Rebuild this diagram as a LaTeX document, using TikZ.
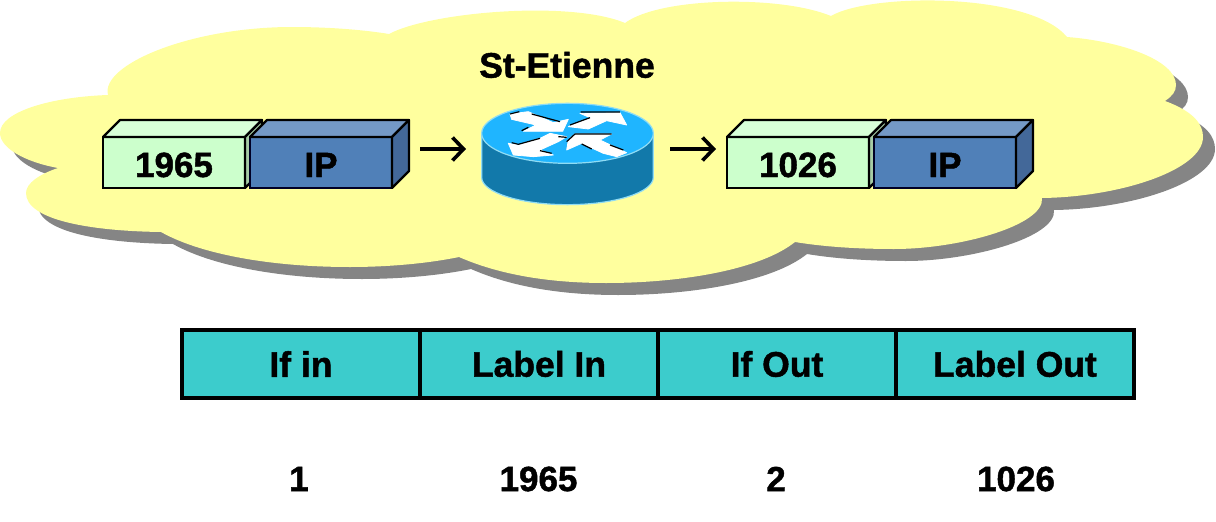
\documentclass[tikz,border=0pt]{standalone}
\usepackage{fontspec}
\setmainfont[BoldFeatures={FakeBold=1.3}]{Liberation Sans}
\usetikzlibrary{arrows.meta,calc}
\definecolor{cloudy}{HTML}{FFFF9E}
\definecolor{shadowg}{HTML}{858585}
\definecolor{gfront}{HTML}{CCFFCC}
\definecolor{gtop}{HTML}{D8FFD8}
\definecolor{gside}{HTML}{A6CCA6}
\definecolor{bfront}{HTML}{5080B8}
\definecolor{btop}{HTML}{7499C6}
\definecolor{bside}{HTML}{436899}
\definecolor{teal}{HTML}{3CCCCC}
\definecolor{rtop}{HTML}{1FB5FF}
\definecolor{rside}{HTML}{1279AA}
\definecolor{redge}{HTML}{90DCF4}
\newcommand\cloudpath{(389,34)
 .. controls (430,12) and (570,0) .. (625,23)
 .. controls (660,-3) and (780,-5) .. (831,16)
 .. controls (870,-7) and (1030,-8) .. (1067,37)
 .. controls (1120,41) and (1176,60) .. (1176,85)
 .. controls (1176,92) and (1172,96) .. (1165,101)
 .. controls (1195,112) and (1203,125) .. (1203,137)
 .. controls (1203,170) and (1120,197) .. (1042,198)
 .. controls (1045,225) and (960,249) .. (894,249)
 .. controls (860,249) and (825,247) .. (795,242)
 .. controls (760,270) and (680,283) .. (606,283)
 .. controls (550,283) and (500,275) .. (459,257)
 .. controls (425,264) and (385,267) .. (350,267)
 .. controls (270,267) and (200,254) .. (161,232)
 .. controls (90,231) and (26,220) .. (26,193)
 .. controls (26,183) and (40,174) .. (58,168)
 .. controls (25,162) and (0,148) .. (0,133)
 .. controls (0,112) and (50,97) .. (108,95)
 .. controls (100,65) and (190,27) .. (292,27)
 .. controls (330,27) and (365,30) .. (389,34) -- cycle}
\tikzset{
 x=1pt,y=-1pt,
 lbl/.style={font=\fontsize{35}{35}\bfseries\selectfont,text=black,inner sep=0pt,outer sep=0pt},
 hdr/.style={lbl,font=\fontsize{35.5}{36}\bfseries\selectfont},
 frontbox/.style={lbl,text height=29pt,text depth=0pt,minimum width=142pt,minimum height=51pt,line width=2.2pt,draw=black,anchor=north west},
 greenbox/.style={frontbox,fill=gfront},
 bluebox/.style={frontbox,fill=bfront,draw=black!85!blue},
 cell/.style={hdr,draw=black,line width=4pt,fill=teal,minimum width=238pt,minimum height=68pt,anchor=north west},
 flow/.style={line width=3.8pt,-{Straight Barb[length=11pt,width=23pt,line width=3.6pt]}},
 routerarrow/.style={fill=white,draw=white,line width=0.8pt,line join=round},
 routerdash/.style={black,line width=1.2pt},
}
% #1 node name, #2 fill top, #3 fill side
\newcommand\depthfaces[3]{%
 \draw[fill=#2,line width=2.2pt,line join=round] (#1.north west) -- ++(17,-17) -- ($(#1.north east)+(17,-17)$) -- (#1.north east) -- cycle;
 \draw[fill=#3,line width=2.2pt,line join=round] (#1.north east) -- ++(17,-17) -- ($(#1.south east)+(17,-17)$) -- (#1.south east) -- cycle;
}
\begin{document}
\begin{tikzpicture}
\useasboundingbox (0,0) rectangle (1216,522);
\fill[shadowg,shift={(12,12)}] \cloudpath;
\fill[cloudy] \cloudpath;
\node[hdr] (title) at (567,65) {St-Etienne};
% boxes
\node[greenbox] (lab1) at (103,137) {1965};
\depthfaces{lab1}{gtop}{gside}
\node[bluebox] (ip1) at (250,137) {IP};
\depthfaces{ip1}{btop}{bside}
\node[greenbox] (lab2) at (727,137) {1026};
\depthfaces{lab2}{gtop}{gside}
\node[bluebox] (ip2) at (874,137) {IP};
\depthfaces{ip2}{btop}{bside}
% router
\begin{scope}[shift={(460,90)},x=0.3333pt,y=-0.3333pt]
 \draw[fill=rside,draw=redge,line width=1.2pt] (65,135) -- (65,262) arc[start angle=180,end angle=0,x radius=257.5,y radius=82] -- (580,135) -- cycle;
 \draw[fill=rtop,draw=redge,line width=1.2pt] (322.5,130) ellipse[x radius=257.5,y radius=90];
 \draw[routerarrow] (150,72)--(205,65)--(280,98)--(325,88)--(308,124)--(190,124)--(228,105)--(155,88)--cycle;
 \draw[routerarrow] (360,70)--(480,68)--(500,105)--(440,92)--(385,117)--(325,110)--(345,100)--(395,85)--cycle;
 \draw[routerarrow] (145,160)--(175,165)--(240,145)--(270,130)--(320,140)--(295,155)--(240,180)--(280,195)--(220,200)--(160,195)--cycle;
 \draw[routerarrow] (345,132)--(455,132)--(420,150)--(500,188)--(470,200)--(430,190)--(365,160)--(320,180)--(325,150)--cycle;
 \draw[routerdash] (150,72)--(178,65) (215,72)--(300,95) (362,66)--(480,66) (330,105)--(390,83) (185,122)--(205,112)
   (155,158)--(175,163)--(240,145) (295,140)--(320,142) (345,132)--(455,132) (320,155)--(345,132) (365,162)--(395,177) (450,165)--(490,180) (240,182)--(275,190);
\end{scope}
\coordinate (routerin) at (466,149);
\coordinate (routerout) at (670,149);
\coordinate (ip1out) at (420,149);
\coordinate (lab2in) at (716,149);
\draw[flow] (ip1out) -- (routerin);
\draw[flow] (routerout) -- (lab2in);
% table
\node[cell] (c1) at (182,330) {If in};
\node[cell] (c2) at (420,330) {Label In};
\node[cell] (c3) at (658,330) {If Out};
\node[cell] (c4) at (896,330) {Label Out};
\node[lbl] (v1) at (299,479) {1};
\node[lbl] (v2) at (538.5,479) {1965};
\node[lbl] (v3) at (776,479) {2};
\node[lbl] (v4) at (1016,479) {1026};
\end{tikzpicture}
\end{document}
